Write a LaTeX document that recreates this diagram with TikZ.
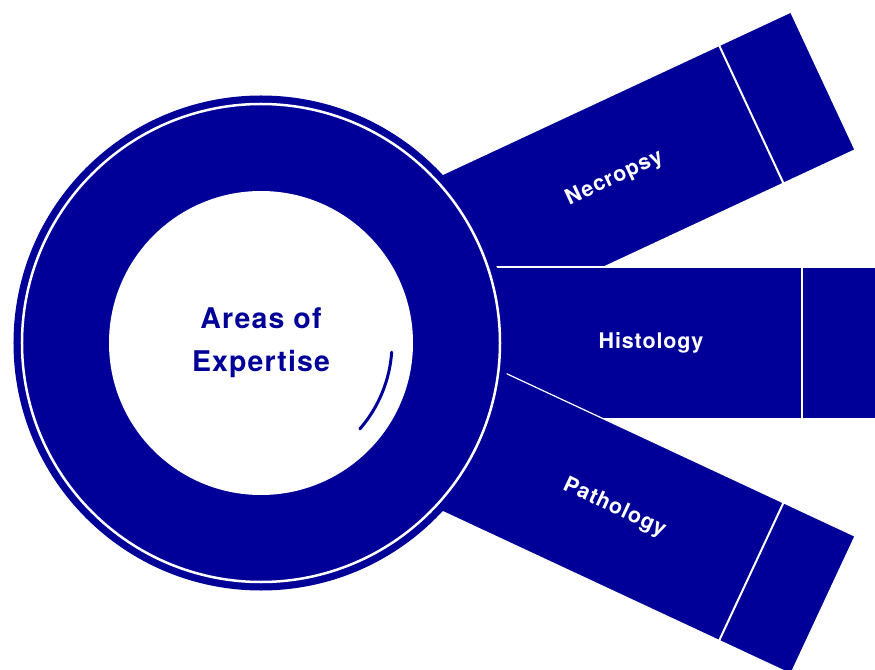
\documentclass[tikz,border=0pt]{standalone}
\usepackage{fontspec}
\setmainfont{TeX Gyre Heros}
\newfontfamily\labelfont{TeX Gyre Heros}[LetterSpace=4]
\definecolor{deepblue}{RGB}{0,0,153}
\begin{document}
\begin{tikzpicture}[x=1pt,y=1pt,
  bandfill/.style={fill=deepblue, draw=white, line width=1.2pt},
  sepline/.style={draw=white, line width=2pt},
  bandlabel/.style={text=white, font=\labelfont\fontsize{21.5}{25}\selectfont\bfseries},
  centrelabel/.style={text=deepblue, font=\labelfont\fontsize{28.5}{43}\selectfont\bfseries, align=center}]
\useasboundingbox (-261,-326) rectangle (614,343);
% Necropsy band
\begin{scope}[rotate=25]
  \path[bandfill] (0,-76) rectangle (620,76);
  \draw[sepline] (541,-76) -- (541,76);
  \node[bandlabel, rotate=25] (necropsy) at (390,0) {Necropsy};
\end{scope}
% Histology band
\begin{scope}
  \path[bandfill] (0,-76) rectangle (620,76);
  \draw[sepline] (541,-76) -- (541,76);
  \node[bandlabel] (histology) at (390,0) {Histology};
\end{scope}
% Pathology band
\begin{scope}[rotate=-25]
  \path[bandfill] (0,-76) rectangle (620,76);
  \draw[sepline] (541,-76) -- (541,76);
  \node[bandlabel, rotate=-25] (pathology) at (390,0) {Pathology};
\end{scope}
% Central ring
\fill[deepblue] (0,0) circle (247.5);
\draw[white, line width=2.5pt] (0,0) circle (239);
\fill[white] (0,0) circle (152);
\draw[deepblue, line width=3pt, line cap=round] (-4:131) arc (-4:-41:131);
\node[centrelabel] (areas) at (0,0) {Areas of\\Expertise};
\end{tikzpicture}
\end{document}
